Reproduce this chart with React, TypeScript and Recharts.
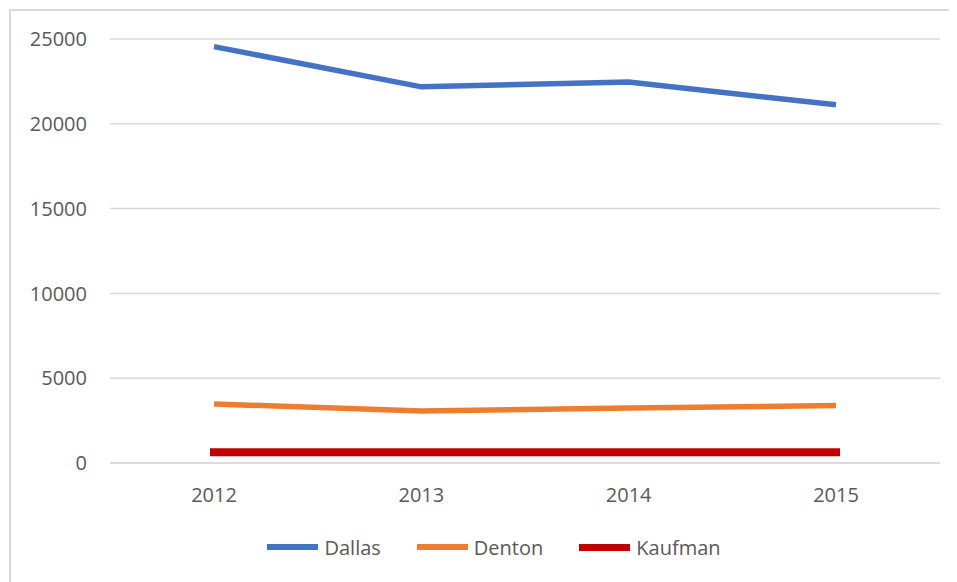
import { CartesianGrid, Legend, Line, LineChart, XAxis, YAxis } from 'recharts';

const years = ['2012', '2013', '2014', '2015'];
const dallas = [24550, 22180, 22460, 21120];
const denton = [3480, 3060, 3240, 3390];
const kaufman = [630, 630, 630, 630];
const yTicks = [0, 5000, 10000, 15000, 20000, 25000];

const data = years.map((year, i) => ({
  year,
  Dallas: dallas[i],
  Denton: denton[i],
  Kaufman: kaufman[i],
}));

const font = '"Open Sans", sans-serif';
const textColor = '#595959';
const gridColor = '#d9d9d9';

function LegendContent({ payload }: any) {
  return (
    <div style={{ height: 40, display: 'flex', alignItems: 'center', justifyContent: 'center', paddingLeft: 40 }}>
      {(payload || []).map((entry: any, i: number) => (
        <div key={entry.value} style={{ display: 'flex', alignItems: 'center', marginLeft: i === 0 ? 0 : 36 }}>
          <div style={{ width: 51, height: i === 2 ? 7 : 6, background: entry.color, marginRight: 6 }} />
          <span style={{ fontFamily: font, fontSize: 20, color: textColor }}>{entry.value}</span>
        </div>
      ))}
    </div>
  );
}

export default function App() {
  return (
    <div style={{ position: 'relative', width: 949, height: 574, overflow: 'hidden', background: '#fff' }}>
      <div
        style={{
          position: 'absolute',
          left: 1,
          top: 1,
          width: 1200,
          height: 800,
          border: `2px solid ${gridColor}`,
        }}
      />
      <LineChart
        width={949}
        height={574}
        data={data}
        margin={{ top: 31, right: 17, bottom: 15, left: 0 }}
        style={{ position: 'absolute', left: 0, top: 0 }}
      >
        <CartesianGrid vertical={false} stroke={gridColor} strokeWidth={1.5} />
        <XAxis
          dataKey="year"
          height={64}
          padding={{ left: 104, right: 104 }}
          axisLine={{ stroke: gridColor, strokeWidth: 1.5 }}
          tickLine={false}
          tickSize={6}
          tickMargin={19}
          tick={{ fill: textColor, fontSize: 20, fontFamily: font }}
        />
        <YAxis
          width={102}
          domain={[0, 25000]}
          ticks={yTicks}
          axisLine={false}
          tickLine={false}
          tickSize={6}
          tickMargin={17}
          tick={{ fill: textColor, fontSize: 20, fontFamily: font }}
        />
        <Legend verticalAlign="bottom" content={<LegendContent />} />
        <Line dataKey="Dallas" stroke="#4472C4" strokeWidth={5.5} dot={false} isAnimationActive={false} />
        <Line dataKey="Denton" stroke="#ED7D31" strokeWidth={5.5} dot={false} isAnimationActive={false} />
        <Line
          dataKey="Kaufman"
          stroke="#C00000"
          strokeWidth={8}
          strokeLinecap="square"
          dot={false}
          isAnimationActive={false}
        />
      </LineChart>
    </div>
  );
}
